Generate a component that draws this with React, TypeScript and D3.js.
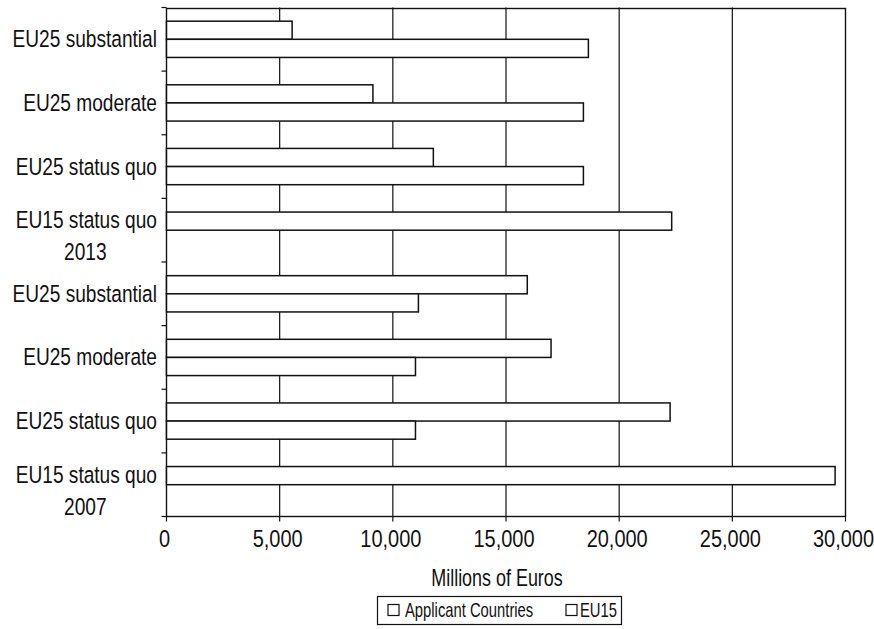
import React, { useEffect, useRef } from "react";
import * as d3 from "d3";

const categoryLabels: string[][] = [
  ["EU25 substantial"],
  ["EU25 moderate"],
  ["EU25 status quo"],
  ["EU15 status quo", "2013"],
  ["EU25 substantial"],
  ["EU25 moderate"],
  ["EU25 status quo"],
  ["EU15 status quo", "2007"],
];
const applicantCountries = [18640, 18420, 18420, 0, 11130, 11000, 11000, 0];
const eu15 = [5550, 9120, 11790, 22320, 15940, 16990, 22250, 29540];
const seriesNames = ["Applicant Countries", "EU15"];
const xTicks = [0, 5000, 10000, 15000, 20000, 25000, 30000];
const xTitle = "Millions of Euros";

const FONT = "'Liberation Sans', Arial, Helvetica, sans-serif";
const INK = "#111";

type Sel = d3.Selection<SVGGElement, unknown, null, undefined>;

function addText(g: Sel, x: number, y: number, s: string, size: number, sx: number, anchor: string) {
  const t = g.append("g").attr("transform", `translate(${x},${y}) scale(${sx},1)`)
    .append("text")
    .attr("x", 0).attr("y", 0)
    .attr("text-anchor", anchor)
    .attr("font-family", FONT).attr("font-size", size).attr("fill", INK)
    .text(s);
  return t;
}

export default function App() {
  const ref = useRef<SVGSVGElement | null>(null);

  useEffect(() => {
    const svg = d3.select(ref.current);
    svg.selectAll("*").remove();

    const left = 166.5, right = 845.5, top = 7.5, bottom = 516.5;
    const x = d3.scaleLinear().domain([0, 30000]).range([left, right]);
    const idx = categoryLabels.map((_, i) => i);
    const y = d3.scaleBand<number>().domain(idx).range([top, bottom]).paddingInner(0.43).paddingOuter(0.215);
    const inner = d3.scaleBand<string>().domain(["EU15", "Applicant"]).range([0, y.bandwidth()]);

    const g = svg.append("g") as unknown as Sel;

    // gridlines
    g.selectAll("line.grid")
      .data(xTicks.filter((t) => t > 0 && t < 30000))
      .join("line")
      .attr("x1", (d) => x(d)).attr("x2", (d) => x(d))
      .attr("y1", top).attr("y2", bottom)
      .attr("stroke", INK).attr("stroke-width", 1.2);

    // plot border
    g.append("rect")
      .attr("x", left).attr("y", top + 1)
      .attr("width", right - left).attr("height", bottom - top - 1)
      .attr("fill", "none").attr("stroke", INK).attr("stroke-width", 1.4);

    // x ticks
    g.selectAll("line.xt")
      .data(xTicks)
      .join("line")
      .attr("x1", (d) => x(d)).attr("x2", (d) => x(d))
      .attr("y1", bottom).attr("y2", bottom + 5)
      .attr("stroke", INK).attr("stroke-width", 1.2);

    // y ticks at category boundaries
    const bounds = d3.range(categoryLabels.length + 1).map((i) => top + i * y.step());
    g.selectAll("line.yt")
      .data(bounds)
      .join("line")
      .attr("x1", left - 5).attr("x2", left)
      .attr("y1", (d) => d).attr("y2", (d) => d)
      .attr("stroke", INK).attr("stroke-width", 1.2);

    // bars
    const rows = idx.flatMap((i) => [
      { i, s: "EU15", v: eu15[i] },
      { i, s: "Applicant", v: applicantCountries[i] },
    ]).filter((r) => r.v > 0);
    g.selectAll("rect.bar")
      .data(rows)
      .join("rect")
      .attr("x", x(0))
      .attr("y", (d) => (y(d.i) as number) + (inner(d.s) as number))
      .attr("width", (d) => x(d.v) - x(0))
      .attr("height", inner.bandwidth())
      .attr("fill", "#fff").attr("stroke", INK).attr("stroke-width", 1.5);

    // x tick labels
    xTicks.forEach((t) => {
      addText(g, x(t) - 2, 546.5, d3.format(",")(t), 23.5, 0.85, "middle");
    });

    // axis title
    addText(g, 497, 586, xTitle, 23, 0.78, "middle");

    // category labels
    const labelRight = 157;
    const SX = 0.78;
    const FS = 24.5;
    idx.forEach((i) => {
      const lines = categoryLabels[i];
      const cy = (y(i) as number) + y.bandwidth() / 2;
      if (lines.length === 1) {
        addText(g, labelRight, cy + 8, lines[0], FS, SX, "end");
      } else {
        const t1 = addText(g, labelRight, cy - 2, lines[0], FS, SX, "end");
        const w = (t1.node() as SVGTextElement).getComputedTextLength() * SX;
        addText(g, labelRight - w / 2 - 1, cy + 30, lines[1], FS, SX, "middle");
      }
    });

    // legend
    const lg = g.append("g") as unknown as Sel;
    lg.append("rect")
      .attr("x", 377.5).attr("y", 596.5).attr("width", 244).attr("height", 28)
      .attr("fill", "#fff").attr("stroke", INK).attr("stroke-width", 1.2);
    const swatchX = [388, 566];
    const textX = [405, 580];
    seriesNames.forEach((name, k) => {
      lg.append("rect")
        .attr("x", swatchX[k]).attr("y", 604.5).attr("width", 11).attr("height", 11)
        .attr("fill", "#fff").attr("stroke", INK).attr("stroke-width", 1.2);
      addText(lg, textX[k], 617, name, 20, 0.74, "start");
    });
  }, []);

  return (
    <>
      <style>{`body{margin:0;background:#fff}`}</style>
      <svg ref={ref} width={874} height={629} style={{ display: "block", background: "#fff" }} />
    </>
  );
}
